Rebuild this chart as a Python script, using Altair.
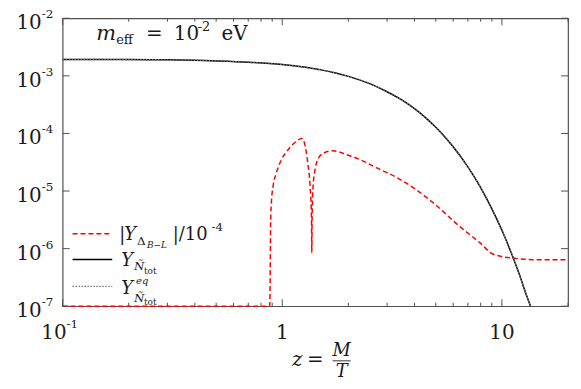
import altair as alt
import pandas as pd

# ---------------- data ----------------
z_black = [0.1, 0.2, 0.3, 0.5, 0.7, 1.0, 1.2, 1.5, 1.75, 2.0, 2.5, 3.0, 3.5, 4.0, 4.5,
           5.0, 5.5, 6.0, 7.0, 8.0, 9.0, 10.0, 11.0, 12.0, 13.0, 13.5]
y_black = [1.93e-3, 1.92e-3, 1.90e-3, 1.82e-3, 1.73e-3, 1.57e-3, 1.45e-3, 1.27e-3, 1.12e-3,
           9.8e-4, 7.33e-4, 5.3e-4, 3.82e-4, 2.69e-4, 1.865e-4, 1.28e-4, 8.71e-5, 5.88e-5,
           2.62e-5, 1.145e-5, 4.91e-6, 2.08e-6, 8.67e-7, 3.59e-7, 1.47e-7, 1.0e-7]
z_eq = [0.1, 0.2, 0.3, 0.5, 0.7, 1.0, 1.2, 1.5, 1.75, 2.0, 2.5, 3.0, 3.5, 4.0, 4.5,
        5.0, 5.5, 6.0, 7.0, 8.0, 9.0, 10.0, 11.0, 12.0, 13.0, 13.5]
y_eq = [1.93e-3, 1.92e-3, 1.90e-3, 1.82e-3, 1.73e-3, 1.57e-3, 1.45e-3, 1.27e-3, 1.12e-3,
        9.8e-4, 7.33e-4, 5.3e-4, 3.82e-4, 2.69e-4, 1.865e-4, 1.28e-4, 8.71e-5, 5.88e-5,
        2.62e-5, 1.145e-5, 4.91e-6, 2.08e-6, 8.67e-7, 3.59e-7, 1.47e-7, 1.0e-7]
z_red = [0.1, 0.5, 0.877, 0.886, 0.892, 0.908, 0.939, 0.99, 1.061, 1.138, 1.228, 1.263,
         1.307, 1.339, 1.359, 1.363, 1.367, 1.381, 1.41, 1.476, 1.556, 1.696, 1.983, 2.278,
         2.692, 3.338, 4.11, 5.06, 6.29, 7.93, 9.14, 11.38, 15.1, 20.0]
y_red = [1e-7, 1e-7, 1e-7, 3.2e-6, 6.2e-6, 1.2e-5, 2.04e-5, 3.47e-5, 5.15e-5, 6.89e-5,
         8.2e-5, 6.73e-5, 3.04e-5, 1.2e-5, 3.2e-6, 8.5e-7, 3.2e-6, 1.2e-5, 2.33e-5, 3.95e-5,
         4.63e-5, 5.0e-5, 4.23e-5, 3.47e-5, 2.52e-5, 1.7e-5, 1.03e-5, 5.5e-6, 2.6e-6,
         1.27e-6, 7.98e-7, 6.81e-7, 6.41e-7, 6.4e-7]

x_major = [0.1, 1, 10]
x_minor = [0.2, 0.3, 0.4, 0.5, 0.6, 0.7, 0.8, 0.9, 2, 3, 4, 5, 6, 7, 8, 9, 20]
x_tick_main = ["10", "1", "10"]
x_tick_exp = ["-1", "", ""]
y_major = [1e-2, 1e-3, 1e-4, 1e-5, 1e-6, 1e-7]
y_tick_main = ["10", "10", "10", "10", "10", "10"]
y_tick_exp = ["-2", "-3", "-4", "-5", "-6", "-7"]

# ---------------- chart ----------------
W, H = 509, 290
FONT = "DejaVu Serif, Liberation Serif, serif"
AX = "#505050"
TXT = "#1a1a1a"
xs = alt.Scale(type="log", domain=[0.1, 20], nice=False)
ys = alt.Scale(type="log", domain=[1e-7, 1e-2], nice=False)

df_black = pd.DataFrame({"z": z_black, "Y": y_black})
df_eq = pd.DataFrame({"z": z_eq, "Y": y_eq})
df_red = pd.DataFrame({"z": z_red, "Y": y_red})
df_xmaj = pd.DataFrame({"v": x_major, "main": x_tick_main, "exp": x_tick_exp})
df_xmin = pd.DataFrame({"v": x_minor})
df_ymaj = pd.DataFrame({"v": y_major, "main": y_tick_main, "exp": y_tick_exp})
ONE = pd.DataFrame({"k": [0]})

X = lambda f: alt.X(f, scale=xs, axis=None)
Y = lambda f: alt.Y(f, scale=ys, axis=None)

black = alt.Chart(df_black).mark_line(color="black", strokeWidth=1.5, interpolate="monotone").encode(
    x=X("z:Q"), y=Y("Y:Q"), order="z:Q")
eq = alt.Chart(df_eq).mark_line(color="#777777", strokeWidth=1.2, strokeDash=[1.5, 1.5],
                                interpolate="monotone").encode(x=X("z:Q"), y=Y("Y:Q"), order="z:Q")
red = alt.Chart(df_red).mark_line(color="#ff0000", strokeWidth=1.5, strokeDash=[5, 3],
                                  interpolate="monotone").encode(x=X("z:Q"), y=Y("Y:Q"), order="z:Q")

# ticks (inward, mirrored on all sides)
tk = []
for df, ln in ((df_xmaj, 7), (df_xmin, 3.5)):
    tk.append(alt.Chart(df).mark_rule(color=AX).encode(x=X("v:Q"), y=alt.value(H), y2=alt.value(H - ln)))
    tk.append(alt.Chart(df).mark_rule(color=AX).encode(x=X("v:Q"), y=alt.value(0), y2=alt.value(ln)))
tk.append(alt.Chart(df_ymaj).mark_rule(color=AX).encode(y=Y("v:Q"), x=alt.value(0), x2=alt.value(7)))
tk.append(alt.Chart(df_ymaj).mark_rule(color=AX).encode(y=Y("v:Q"), x=alt.value(W), x2=alt.value(W - 7)))

# tick labels
lab = []
lab.append(alt.Chart(df_ymaj).mark_text(font=FONT, fontSize=20, align="right", baseline="alphabetic",
                                         dy=11, color=TXT).encode(y=Y("v:Q"), x=alt.value(-21), text="main:N"))
lab.append(alt.Chart(df_ymaj).mark_text(font=FONT, fontSize=12, align="left", baseline="alphabetic",
                                         dy=0, color=TXT).encode(y=Y("v:Q"), x=alt.value(-21), text="exp:N"))
lab.append(alt.Chart(df_xmaj).transform_filter("datum.exp == ''").mark_text(
    font=FONT, fontSize=20, align="center", baseline="alphabetic", dy=33, color=TXT).encode(
    x=X("v:Q"), y=alt.value(H), text="main:N"))
lab.append(alt.Chart(df_xmaj).transform_filter("datum.exp != ''").mark_text(
    font=FONT, fontSize=20, align="right", baseline="alphabetic", dx=4, dy=33, color=TXT).encode(
    x=X("v:Q"), y=alt.value(H), text="main:N"))
lab.append(alt.Chart(df_xmaj).transform_filter("datum.exp != ''").mark_text(
    font=FONT, fontSize=12, align="left", baseline="alphabetic", dx=4, dy=22, color=TXT).encode(
    x=X("v:Q"), y=alt.value(H), text="exp:N"))


def T(s, x, y, size=20, italic=False, align="left", color=TXT):
    return alt.Chart(ONE).mark_text(text=s, font=FONT, fontSize=size,
                                    fontStyle="italic" if italic else "normal",
                                    align=align, baseline="alphabetic", color=color).encode(
        x=alt.value(x), y=alt.value(y))


def R(x1, x2, y, color, dash=None, width=1.5):
    kw = dict(color=color, strokeWidth=width)
    if dash:
        kw["strokeDash"] = dash
    return alt.Chart(ONE).mark_rule(**kw).encode(x=alt.value(x1), x2=alt.value(x2), y=alt.value(y))


txt = []
# annotation  m_eff = 10^-2 eV
txt += [T("m", 34, 22, 21, True), T("eff", 54, 26, 13), T("=", 84, 22, 20),
        T("10", 112, 22, 20), T("-2", 136, 13, 13), T("eV", 160, 22, 20)]
# x title  z = M / T
txt += [T("z", 231, 350, 20, True), T("=", 246, 350, 20),
        T("M", 281, 340, 18, True, "center"), T("T", 281, 361, 18, True, "center"),
        R(272, 290, 345, "#333333", None, 1)]
# legend
txt += [R(10, 50, 217, "#ff0000", [5, 3]), R(10, 50, 243, "black", None, 1.5),
        R(10, 50, 270, "#777777", [1.5, 1.5], 1.2)]
txt += [T("|", 57, 223, 18), T("Y", 62, 223, 18, True), T("Δ", 75, 228, 12),
        T("B−L", 85, 231, 9, True), T("|/10", 111, 223, 18), T("-4", 150, 214, 12)]
txt += [T("Y", 59, 249, 18, True), T("Ñ", 72, 254, 12, True), T("tot", 82, 258, 9)]
txt += [T("Y", 59, 278, 18, True), T("eq", 74, 268, 10, True), T("Ñ", 72, 286, 12, True),
        T("tot", 82, 289, 9)]

chart = alt.layer(red, black, eq, *tk, *lab, *txt).properties(
    width=W, height=H,
    autosize=alt.AutoSizeParams(type="none"),
    padding={"left": 55, "top": 9, "right": 5, "bottom": 80},
).configure_view(stroke=AX, strokeWidth=1.2)

chart.save("out.html", embed_options={"renderer": "svg", "actions": False})
